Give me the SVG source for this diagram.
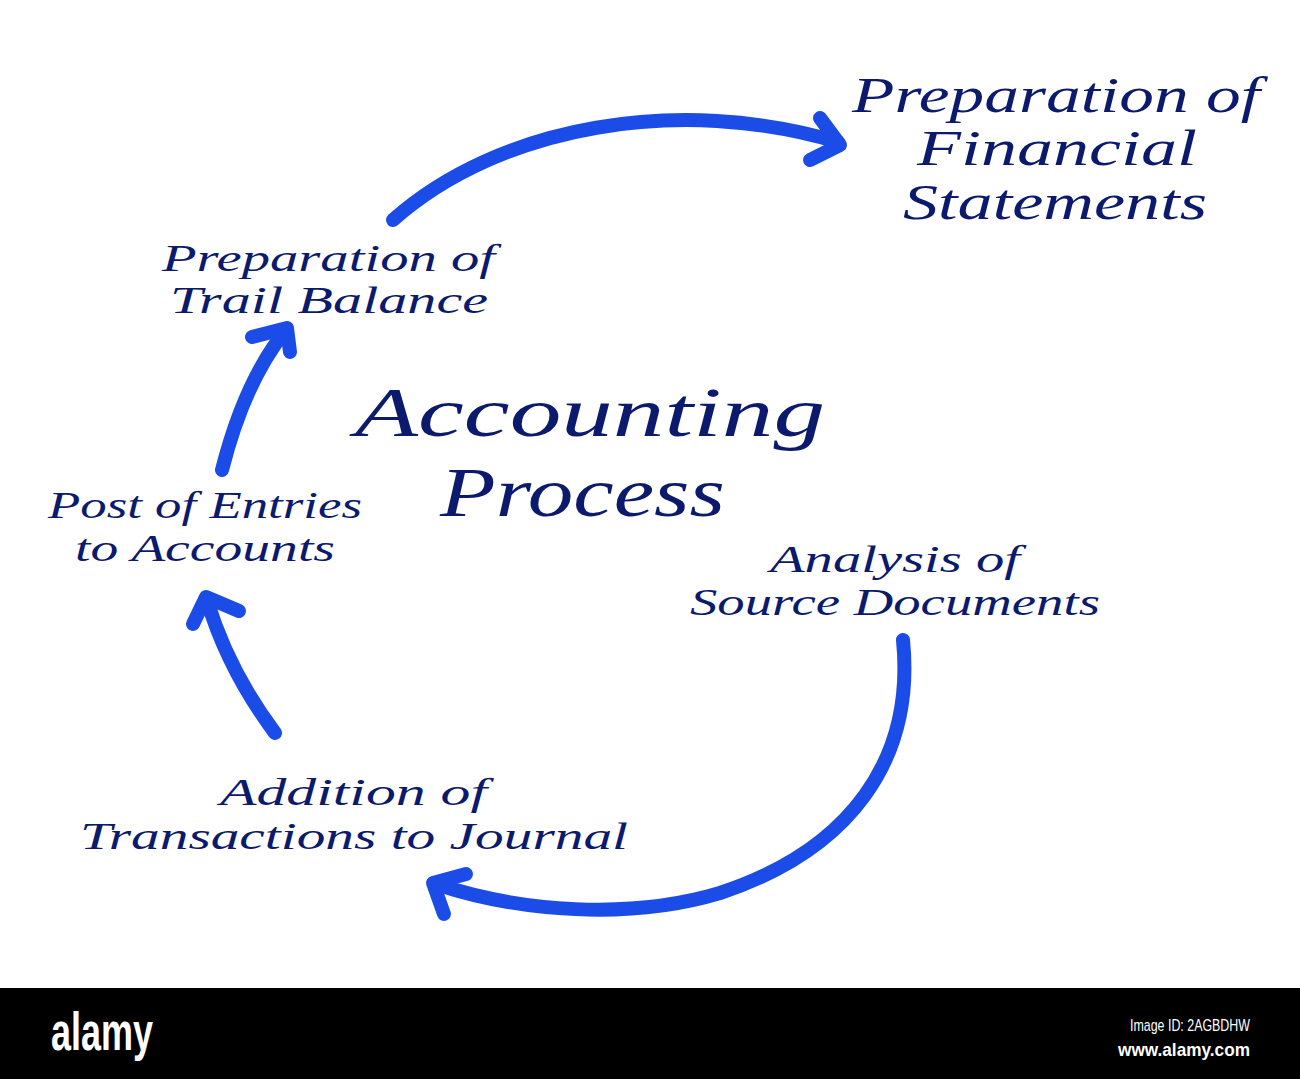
<svg xmlns="http://www.w3.org/2000/svg" width="1300" height="1079" viewBox="0 0 1300 1079">
<defs>
<style>
.t{font-family:"Liberation Serif","DejaVu Serif",serif;font-style:italic;fill:#0b1a6c;}
.a{fill:none;stroke:#1b4ce8;stroke-width:14;stroke-linecap:round;stroke-linejoin:round;}
.w{font-family:"Liberation Sans","DejaVu Sans",sans-serif;fill:#ffffff;}
</style>
</defs>
<rect x="0" y="0" width="1300" height="1079" fill="#ffffff"/>
<g id="connectors">
<path class="a" d="M393,220 C500,125 680,95 838,142"/>
<path class="a" d="M820,118 L840,145 L810,160"/>
<path class="a" d="M222,470 Q245,380 286,330"/>
<path class="a" d="M252,337 L287,328 L290,352"/>
<path class="a" d="M275,733 Q228,670 207,600"/>
<path class="a" d="M193,624 L206,597 L239,611"/>
<path class="a" d="M903,640 C915,760 850,850 720,893 C630,920 520,912 436,884"/>
<path class="a" d="M466,874 L433,883 L444,914"/>
</g>
<g id="node-financial">
<text class="t" x="852" y="112" font-size="50" textLength="408" lengthAdjust="spacingAndGlyphs">Preparation of</text>
<text class="t" x="917" y="165" font-size="50" textLength="280" lengthAdjust="spacingAndGlyphs">Financial</text>
<text class="t" x="903" y="219" font-size="50" textLength="304" lengthAdjust="spacingAndGlyphs">Statements</text>
</g>
<g id="node-trial">
<text class="t" x="162" y="271" font-size="38" textLength="333" lengthAdjust="spacingAndGlyphs">Preparation of</text>
<text class="t" x="170" y="313" font-size="38" textLength="318" lengthAdjust="spacingAndGlyphs">Trail Balance</text>
</g>
<g id="node-title">
<text class="t" x="355" y="436" font-size="70" textLength="470" lengthAdjust="spacingAndGlyphs">Accounting</text>
<text class="t" x="440" y="516" font-size="70" textLength="285" lengthAdjust="spacingAndGlyphs">Process</text>
</g>
<g id="node-post">
<text class="t" x="48" y="518" font-size="37" textLength="314" lengthAdjust="spacingAndGlyphs">Post of Entries</text>
<text class="t" x="75" y="561" font-size="37" textLength="260" lengthAdjust="spacingAndGlyphs">to Accounts</text>
</g>
<g id="node-analysis">
<text class="t" x="770" y="572" font-size="37" textLength="250" lengthAdjust="spacingAndGlyphs">Analysis of</text>
<text class="t" x="690" y="615" font-size="37" textLength="410" lengthAdjust="spacingAndGlyphs">Source Documents</text>
</g>
<g id="node-addition">
<text class="t" x="220" y="805" font-size="38" textLength="267" lengthAdjust="spacingAndGlyphs">Addition of</text>
<text class="t" x="80" y="849" font-size="38" textLength="548" lengthAdjust="spacingAndGlyphs">Transactions to Journal</text>
</g>
<g id="watermark">
<rect x="0" y="988" width="1300" height="91" fill="#000000"/>
<text class="w" x="51" y="1050" font-size="54" font-weight="bold" textLength="102" lengthAdjust="spacingAndGlyphs">alamy</text>
<text class="w" x="1130" y="1031" font-size="17" textLength="120" lengthAdjust="spacingAndGlyphs">Image ID: 2AGBDHW</text>
<text class="w" x="1118" y="1056" font-size="19" font-weight="bold" textLength="132" lengthAdjust="spacingAndGlyphs">www.alamy.com</text>
</g>
</svg>
